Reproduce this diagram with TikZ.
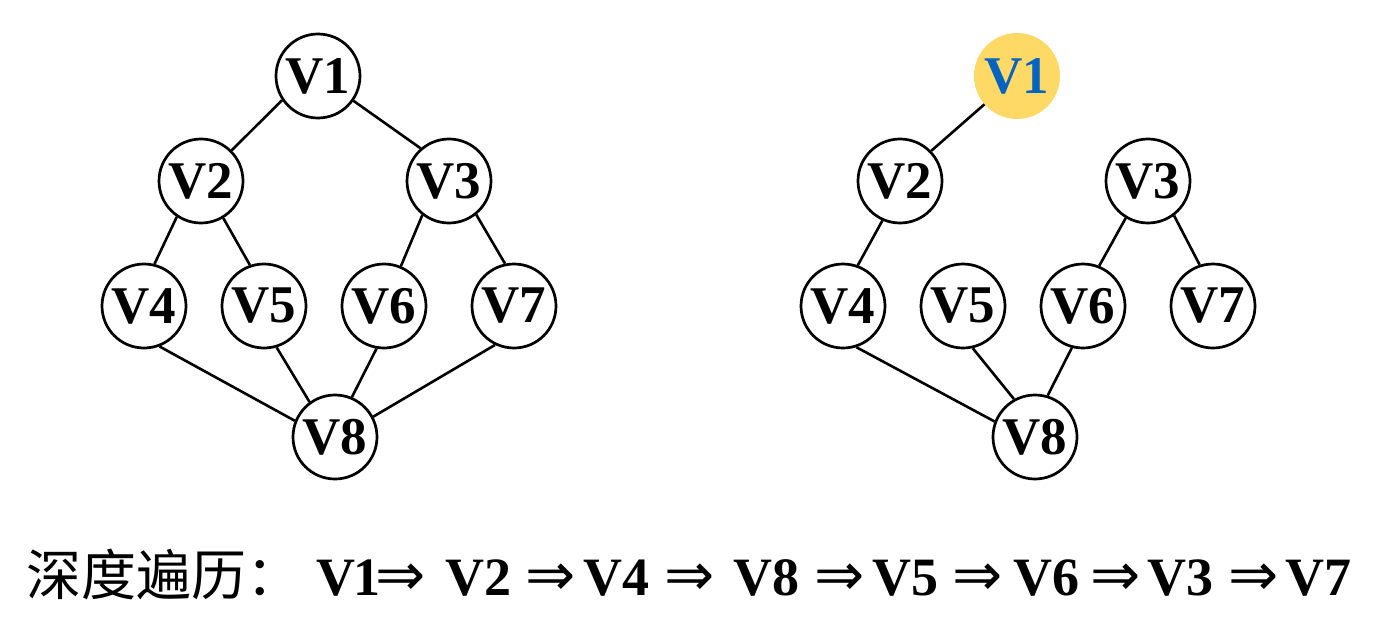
\documentclass[tikz,border=0pt]{standalone}
\usepackage{fontspec}
\setmainfont{Liberation Serif}
\newfontfamily\cjkfont{Noto Sans CJK SC}
\newfontfamily\arrowfont{DejaVu Sans}
\definecolor{visitfill}{RGB}{255,217,102}
\definecolor{visittext}{RGB}{5,99,193}
\begin{document}
\begin{tikzpicture}[x=1pt,y=-1pt,
  vertex/.style={circle,draw=black,line width=2.7pt,minimum size=84pt,inner sep=0pt,
    font=\fontsize{53}{60}\selectfont\bfseries},
  visited/.style={circle,fill=visitfill,minimum size=86pt,inner sep=0pt,text=visittext,
    font=\fontsize{53}{60}\selectfont\bfseries},
  edge/.style={line width=2.6pt},
  seqtext/.style={anchor=base west,inner sep=0pt,font=\fontsize{54}{60}\selectfont\bfseries},
  seqarrow/.style={anchor=base west,inner sep=0pt,font=\fontsize{60}{60}\selectfont\arrowfont}
]
\useasboundingbox[fill=white] (0,0) rectangle (1376,642);

% graph on the left
\node[vertex] (a1) at (318,76)  {V1};
\node[vertex] (a2) at (201,181) {V2};
\node[vertex] (a3) at (449,181) {V3};
\node[vertex] (a4) at (144,306) {V4};
\node[vertex] (a5) at (264,306) {V5};
\node[vertex] (a6) at (384,306) {V6};
\node[vertex] (a7) at (514,306) {V7};
\node[vertex] (a8) at (335,437) {V8};

\draw[edge] (a1.-146) -- (a2.45);
\draw[edge] (a1.-35)  -- (a3.131);
\draw[edge] (a2.-124) -- (a4.76);
\draw[edge] (a2.-59)  -- (a5.109);
\draw[edge] (a3.-128) -- (a6.67);
\draw[edge] (a3.-51)  -- (a7.102);
\draw[edge] (a4.-69)  -- (a8.158);
\draw[edge] (a5.-73)  -- (a8.126);
\draw[edge] (a6.-100) -- (a8.67);
\draw[edge] (a7.-116) -- (a8.28);

% graph on the right, traversal tree
\node[visited] (b1) at (1017,76) {V1};
\node[vertex] (b2) at (900,181)  {V2};
\node[vertex] (b3) at (1148,181) {V3};
\node[vertex] (b4) at (843,306)  {V4};
\node[vertex] (b5) at (963,306)  {V5};
\node[vertex] (b6) at (1083,306) {V6};
\node[vertex] (b7) at (1213,306) {V7};
\node[vertex] (b8) at (1035,437) {V8};

\draw[edge] (b1.-139) -- (b2.44);
\draw[edge] (b2.-114) -- (b4.70);
\draw[edge] (b3.-121) -- (b6.68);
\draw[edge] (b3.-53)  -- (b7.108);
\draw[edge] (b4.-72)  -- (b8.159);
\draw[edge] (b5.-77)  -- (b8.119);
\draw[edge] (b6.-105) -- (b8.73);

% traversal order
\node[anchor=base west,inner sep=0pt,font=\fontsize{55}{60}\selectfont\cjkfont] (title) at (26,595) {深度遍历：};
\node[seqtext] (s1) at (316,595) {V\kern-2pt 1};
\node[seqarrow] (r1) at (375,595) {⇒};
\node[seqtext] (s2) at (445,595) {V2};
\node[seqarrow] (r2) at (525,595) {⇒};
\node[seqtext] (s3) at (583,595) {V4};
\node[seqarrow] (r3) at (664,595) {⇒};
\node[seqtext] (s4) at (733,595) {V8};
\node[seqarrow] (r4) at (814,595) {⇒};
\node[seqtext] (s5) at (872,595) {V5};
\node[seqarrow] (r5) at (952,595) {⇒};
\node[seqtext] (s6) at (1013,595) {V6};
\node[seqarrow] (r6) at (1090,595) {⇒};
\node[seqtext] (s7) at (1147,595) {V3};
\node[seqarrow] (r7) at (1228,595) {⇒};
\node[seqtext] (s8) at (1285,595) {V7};
\end{tikzpicture}
\end{document}
